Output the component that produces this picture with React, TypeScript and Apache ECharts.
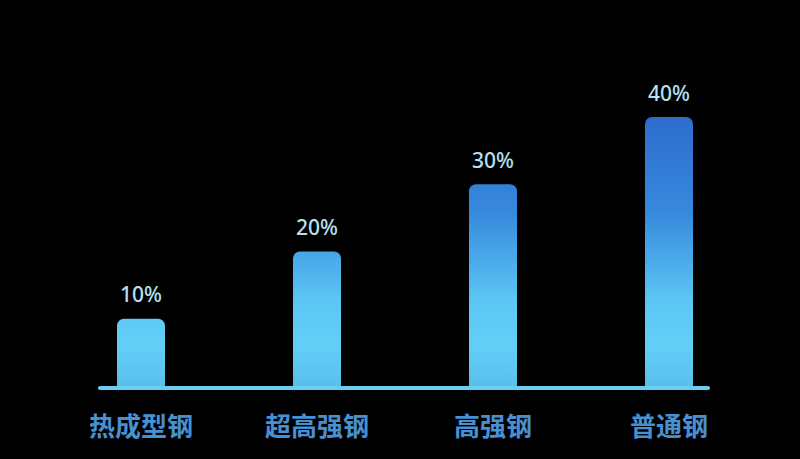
import { useEffect, useRef } from 'react'
import * as echarts from 'echarts'

const categories = ['热成型钢', '超高强钢', '高强钢', '普通钢']
const shares = [10, 20, 30, 40]

export default function App() {
  const chartRef = useRef<HTMLDivElement>(null)

  useEffect(() => {
    if (!chartRef.current) return
    document.body.style.margin = '0'
    const chart = echarts.init(chartRef.current, null, { renderer: 'svg' })

    // 全局渐变：越高越深
    const barColor = new echarts.graphic.LinearGradient(
      0, 117, 0, 386,
      [
        { offset: 0, color: '#2d6ccd' },
        { offset: 0.35, color: '#3688dd' },
        { offset: 0.68, color: '#5cc6f3' },
        { offset: 0.85, color: '#62cff7' },
        { offset: 1, color: '#58bfec' }
      ],
      true
    )

    const option: echarts.EChartsOption = {
      animation: false,
      backgroundColor: '#000000',
      grid: { left: 53, right: 43, top: 117, bottom: 73 },
      xAxis: {
        type: 'category',
        data: categories,
        axisLine: { show: false },
        axisTick: { show: false },
        axisLabel: {
          margin: 25,
          color: '#4790d2',
          fontSize: 26,
          fontWeight: 'bold',
          fontFamily: 'Noto Sans CJK SC'
        }
      },
      yAxis: {
        type: 'value',
        min: 0,
        max: 40,
        show: false,
        splitLine: { show: false }
      },
      graphic: [
        {
          type: 'line',
          shape: { x1: 100, y1: 388, x2: 708, y2: 388 },
          style: { stroke: '#6bcdf1', lineWidth: 4, lineCap: 'round' },
          z: 10
        }
      ],
      series: [
        {
          type: 'bar',
          data: shares,
          barWidth: 48,
          itemStyle: { color: barColor, borderRadius: [7, 7, 0, 0] },
          label: {
            show: true,
            position: 'top',
            distance: 14,
            formatter: '{c}%',
            color: '#b6e0ef',
            fontSize: 21,
            fontWeight: 500,
            fontFamily: 'Noto Sans'
          }
        }
      ]
    }

    chart.setOption(option)
    return () => chart.dispose()
  }, [])

  return <div ref={chartRef} style={{ width: 800, height: 459 }} />
}
